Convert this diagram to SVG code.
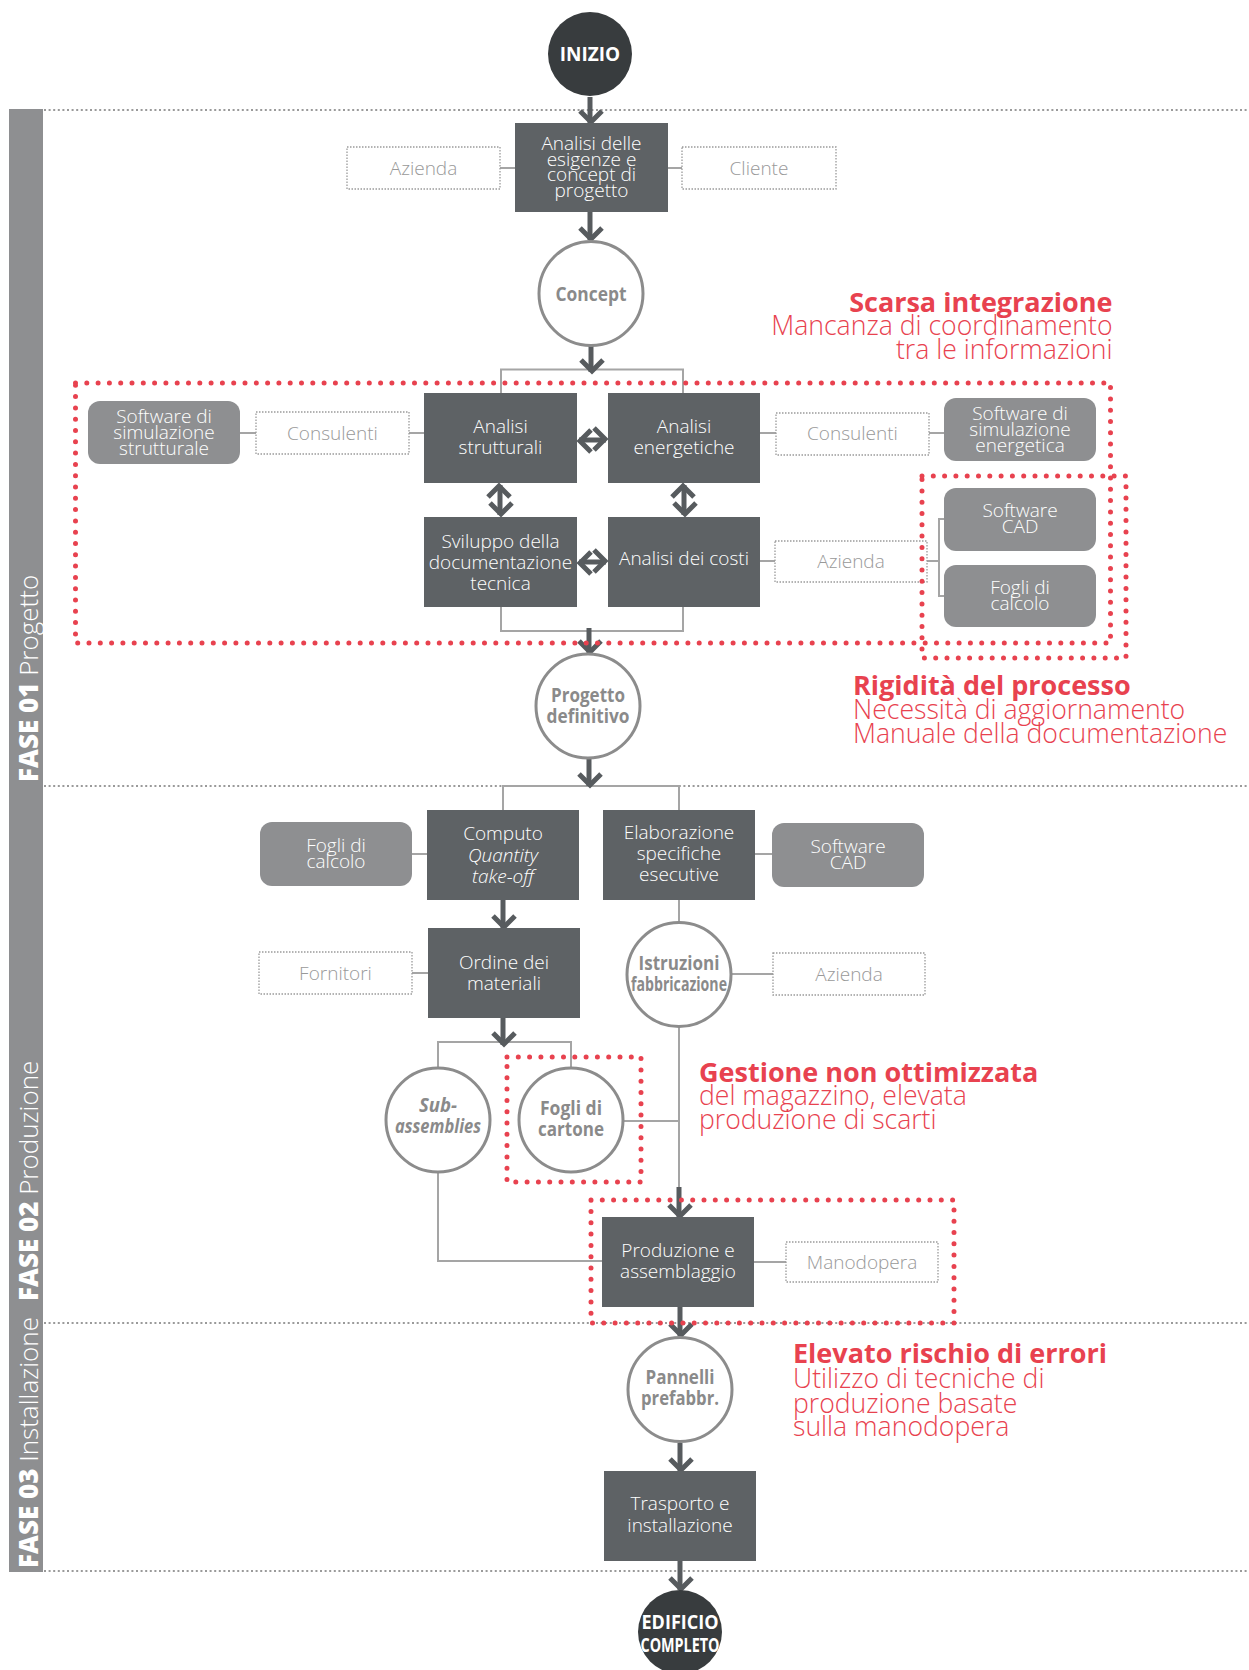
<svg xmlns="http://www.w3.org/2000/svg" width="1249" height="1670" viewBox="0 0 1249 1670">
<style>
  text { font-family: "Open Sans", "Noto Sans", "Liberation Sans", sans-serif; }
  .box { fill: #5e6265; }
  .btxt { fill: #ffffff; font-size: 19px; font-weight: 300; text-anchor: middle; }
  .tool { fill: #8e8f91; }
  .ttxt { fill: #ffffff; font-size: 19px; font-weight: 300; text-anchor: middle; }
  .actor { fill: #ffffff; stroke: #9a9a9a; stroke-width: 1.3; stroke-dasharray: 1.5 1.5; }
  .atxt { fill: #999999; font-size: 19px; font-weight: 300; text-anchor: middle; }
  .state { fill: #ffffff; stroke: #8c8c8c; stroke-width: 3; }
  .stxt { fill: #8a8a8a; font-size: 20px; font-weight: 700; text-anchor: middle; }
  .term { fill: #383c3e; }
  .termtxt { fill: #ffffff; font-size: 19px; font-weight: 700; text-anchor: middle; }
  .link { fill: none; stroke: #a5a5a5; stroke-width: 2; }
  .flow { fill: none; stroke: #575b5e; stroke-width: 5; marker-end: url(#chev); }
  .both { fill: none; stroke: #575b5e; stroke-width: 5; marker-end: url(#chev); marker-start: url(#chev); }
  .phase { fill: none; stroke: #9a9a9a; stroke-width: 2; stroke-dasharray: 2 2.6; }
  .issue { fill: none; stroke: #e8424f; stroke-width: 5; stroke-linecap: round; stroke-dasharray: 0 11.3; }
  .hd { fill: #e8424f; font-size: 27px; font-weight: 700; }
  .sub { fill: #e8424f; font-size: 26.6px; font-weight: 300; }
  .side { fill: #ffffff; font-size: 26px; }
</style>
<defs>
  <marker id="chev" markerUnits="userSpaceOnUse" viewBox="-20 -20 40 40" markerWidth="40" markerHeight="40" refX="0" refY="0" orient="auto-start-reverse" overflow="visible">
    <path d="M-12,-12 L-1,-1 L-12,10" fill="none" stroke="#575b5e" stroke-width="5"/>
  </marker>
</defs>

<!-- phase sidebar -->
<rect x="9" y="109" width="34" height="1463" fill="#8e8f91"/>
<text class="side" transform="translate(38,782) rotate(-90)"><tspan font-weight="800">FASE 01</tspan><tspan font-weight="300"> Progetto</tspan></text>
<text class="side" transform="translate(38,1301) rotate(-90)"><tspan font-weight="800">FASE 02</tspan><tspan font-weight="300"> Produzione</tspan></text>
<text class="side" transform="translate(38,1568) rotate(-90)"><tspan font-weight="800">FASE 03</tspan><tspan font-weight="300"> Installazione</tspan></text>

<!-- phase separators -->
<g id="phase-lines">
  <line class="phase" x1="44" y1="110" x2="1249" y2="110"/>
  <line class="phase" x1="44" y1="786" x2="1249" y2="786"/>
  <line class="phase" x1="44" y1="1323" x2="1249" y2="1323"/>
  <line class="phase" x1="44" y1="1571" x2="1249" y2="1571"/>
</g>

<!-- connectors -->
<g id="connectors">
  <line class="link" x1="500" y1="168" x2="515" y2="168"/>
  <line class="link" x1="668" y1="168" x2="682" y2="168"/>
  <path class="link" d="M501,393 V369.5 H683 V393"/>
  <line class="link" x1="240" y1="433" x2="256" y2="433"/>
  <line class="link" x1="409" y1="433" x2="424" y2="433"/>
  <line class="link" x1="760" y1="433" x2="776" y2="433"/>
  <line class="link" x1="929" y1="433" x2="944" y2="433"/>
  <line class="link" x1="760" y1="561" x2="775" y2="561"/>
  <line class="link" x1="927" y1="561" x2="939" y2="561"/>
  <path class="link" d="M944,519 H939 V596 H944"/>
  <path class="link" d="M501,607 V631 H683 V607"/>
  <path class="link" d="M503,810 V786 H679 V810"/>
  <line class="link" x1="412" y1="854" x2="427" y2="854"/>
  <line class="link" x1="755" y1="854" x2="772" y2="854"/>
  <line class="link" x1="412" y1="973" x2="428" y2="973"/>
  <line class="link" x1="679" y1="900" x2="679" y2="922"/>
  <line class="link" x1="731" y1="974" x2="773" y2="974"/>
  <path class="link" d="M438,1068 V1042 H571 V1068"/>
  <line class="link" x1="623" y1="1121" x2="679" y2="1121"/>
  <line class="link" x1="679" y1="1027" x2="679" y2="1190"/>
  <path class="link" d="M438,1172 V1261 H602"/>
  <line class="link" x1="754" y1="1262" x2="786" y2="1262"/>

  <line class="flow" x1="590" y1="97" x2="590" y2="123"/>
  <line class="flow" x1="590" y1="212" x2="590" y2="240"/>
  <line class="flow" x1="591" y1="346" x2="591" y2="372"/>
  <line class="both" x1="579" y1="440" x2="606" y2="440"/>
  <line class="both" x1="579" y1="562" x2="606" y2="562"/>
  <line class="both" x1="500" y1="485" x2="500" y2="515"/>
  <line class="both" x1="684" y1="485" x2="684" y2="515"/>
  <line class="flow" x1="589" y1="628" x2="589" y2="653"/>
  <line class="flow" x1="589" y1="759" x2="589" y2="786"/>
  <line class="flow" x1="503" y1="900" x2="503" y2="928"/>
  <line class="flow" x1="503" y1="1018" x2="503" y2="1045"/>
  <line class="flow" x1="679" y1="1187" x2="679" y2="1217"/>
  <line class="flow" x1="680" y1="1307" x2="680" y2="1336"/>
  <line class="flow" x1="680" y1="1443" x2="680" y2="1471"/>
  <line class="flow" x1="680" y1="1561" x2="680" y2="1590"/>
</g>

<!-- start / end -->
<g id="inizio">
  <circle class="term" cx="590" cy="54" r="42"/>
  <text class="termtxt" x="590" y="61">INIZIO</text>
</g>
<g id="edificio-completo">
  <circle class="term" cx="680" cy="1632" r="42"/>
  <text class="termtxt" x="680" y="1629" textLength="77" lengthAdjust="spacingAndGlyphs">EDIFICIO</text>
  <text class="termtxt" x="680" y="1651.5" textLength="79" lengthAdjust="spacingAndGlyphs">COMPLETO</text>
</g>

<!-- process boxes -->
<g id="analisi-esigenze">
  <rect class="box" x="515" y="123" width="153" height="89"/>
  <text class="btxt" x="591.5" y="150" font-size="18">Analisi delle</text>
  <text class="btxt" x="591.5" y="165.5" font-size="18">esigenze e</text>
  <text class="btxt" x="591.5" y="181" font-size="18">concept di</text>
  <text class="btxt" x="591.5" y="196.5" font-size="18">progetto</text>
</g>
<g id="analisi-strutturali">
  <rect class="box" x="424" y="393" width="153" height="90"/>
  <text class="btxt" x="500.5" y="433">Analisi</text>
  <text class="btxt" x="500.5" y="454">strutturali</text>
</g>
<g id="analisi-energetiche">
  <rect class="box" x="608" y="393" width="152" height="90"/>
  <text class="btxt" x="684" y="433">Analisi</text>
  <text class="btxt" x="684" y="454">energetiche</text>
</g>
<g id="sviluppo-documentazione">
  <rect class="box" x="424" y="517" width="153" height="90"/>
  <text class="btxt" x="500.5" y="548">Sviluppo della</text>
  <text class="btxt" x="500.5" y="569">documentazione</text>
  <text class="btxt" x="500.5" y="590">tecnica</text>
</g>
<g id="analisi-costi">
  <rect class="box" x="608" y="517" width="152" height="90"/>
  <text class="btxt" x="684" y="565">Analisi dei costi</text>
</g>
<g id="computo">
  <rect class="box" x="427" y="810" width="152" height="90"/>
  <text class="btxt" x="503" y="840">Computo</text>
  <text class="btxt" x="503" y="861.5" font-style="italic">Quantity</text>
  <text class="btxt" x="503" y="883" font-style="italic">take-off</text>
</g>
<g id="elaborazione-specifiche">
  <rect class="box" x="603" y="810" width="152" height="90"/>
  <text class="btxt" x="679" y="838.5">Elaborazione</text>
  <text class="btxt" x="679" y="859.5">specifiche</text>
  <text class="btxt" x="679" y="880.5">esecutive</text>
</g>
<g id="ordine-materiali">
  <rect class="box" x="428" y="928" width="152" height="90"/>
  <text class="btxt" x="504" y="968.5">Ordine dei</text>
  <text class="btxt" x="504" y="989.5">materiali</text>
</g>
<g id="produzione-assemblaggio">
  <rect class="box" x="602" y="1217" width="152" height="90"/>
  <text class="btxt" x="678" y="1256.5">Produzione e</text>
  <text class="btxt" x="678" y="1277.5">assemblaggio</text>
</g>
<g id="trasporto-installazione">
  <rect class="box" x="604" y="1471" width="152" height="90"/>
  <text class="btxt" x="680" y="1510">Trasporto e</text>
  <text class="btxt" x="680" y="1531.5">installazione</text>
</g>

<!-- intermediate outputs -->
<g id="concept">
  <circle class="state" cx="591" cy="293.5" r="52"/>
  <text class="stxt" x="591" y="301" textLength="71" lengthAdjust="spacingAndGlyphs">Concept</text>
</g>
<g id="progetto-definitivo">
  <circle class="state" cx="588" cy="706" r="52"/>
  <text class="stxt" x="588" y="701.5" textLength="74" lengthAdjust="spacingAndGlyphs">Progetto</text>
  <text class="stxt" x="588" y="722.5" textLength="83" lengthAdjust="spacingAndGlyphs">definitivo</text>
</g>
<g id="istruzioni-fabbricazione">
  <circle class="state" cx="679" cy="974.5" r="52"/>
  <text class="stxt" x="679" y="970" textLength="81" lengthAdjust="spacingAndGlyphs">Istruzioni</text>
  <text class="stxt" x="679" y="991" textLength="96" lengthAdjust="spacingAndGlyphs">fabbricazione</text>
</g>
<g id="sub-assemblies">
  <circle class="state" cx="438" cy="1120" r="52"/>
  <text class="stxt" x="438" y="1111.5" font-style="italic" textLength="38" lengthAdjust="spacingAndGlyphs">Sub-</text>
  <text class="stxt" x="438" y="1132.5" font-style="italic" textLength="86" lengthAdjust="spacingAndGlyphs">assemblies</text>
</g>
<g id="fogli-cartone">
  <circle class="state" cx="571" cy="1120" r="52"/>
  <text class="stxt" x="571" y="1115" textLength="62" lengthAdjust="spacingAndGlyphs">Fogli di</text>
  <text class="stxt" x="571" y="1136" textLength="66" lengthAdjust="spacingAndGlyphs">cartone</text>
</g>
<g id="pannelli-prefabbr">
  <circle class="state" cx="680" cy="1389.5" r="52"/>
  <text class="stxt" x="680" y="1383.5" textLength="69" lengthAdjust="spacingAndGlyphs">Pannelli</text>
  <text class="stxt" x="680" y="1405" textLength="78" lengthAdjust="spacingAndGlyphs">prefabbr.</text>
</g>

<!-- actors -->
<g id="azienda-1"><rect class="actor" x="347" y="147" width="153" height="42"/><text class="atxt" x="423.5" y="174.5">Azienda</text></g>
<g id="cliente"><rect class="actor" x="682" y="147" width="154" height="42"/><text class="atxt" x="759" y="174.5">Cliente</text></g>
<g id="consulenti-1"><rect class="actor" x="256" y="412" width="153" height="42"/><text class="atxt" x="332.5" y="439.5">Consulenti</text></g>
<g id="consulenti-2"><rect class="actor" x="776" y="413" width="153" height="42"/><text class="atxt" x="852.5" y="440">Consulenti</text></g>
<g id="azienda-2"><rect class="actor" x="775" y="541" width="152" height="41"/><text class="atxt" x="851" y="567.5">Azienda</text></g>
<g id="fornitori"><rect class="actor" x="259" y="952" width="153" height="42"/><text class="atxt" x="335.5" y="979.5">Fornitori</text></g>
<g id="azienda-3"><rect class="actor" x="773" y="953" width="152" height="42"/><text class="atxt" x="849" y="980.5">Azienda</text></g>
<g id="manodopera"><rect class="actor" x="786" y="1242" width="152" height="40"/><text class="atxt" x="862" y="1268.5">Manodopera</text></g>

<!-- tools -->
<g id="sw-sim-strutturale">
  <rect class="tool" x="88" y="401" width="152" height="63" rx="12"/>
  <text class="ttxt" x="164" y="423">Software di</text>
  <text class="ttxt" x="164" y="439">simulazione</text>
  <text class="ttxt" x="164" y="455">strutturale</text>
</g>
<g id="sw-sim-energetica">
  <rect class="tool" x="944" y="398" width="152" height="63" rx="12"/>
  <text class="ttxt" x="1020" y="420">Software di</text>
  <text class="ttxt" x="1020" y="436">simulazione</text>
  <text class="ttxt" x="1020" y="452">energetica</text>
</g>
<g id="sw-cad-1">
  <rect class="tool" x="944" y="488" width="152" height="63" rx="12"/>
  <text class="ttxt" x="1020" y="517">Software</text>
  <text class="ttxt" x="1020" y="533">CAD</text>
</g>
<g id="fogli-calcolo-1">
  <rect class="tool" x="944" y="565" width="152" height="62" rx="12"/>
  <text class="ttxt" x="1020" y="593.5">Fogli di</text>
  <text class="ttxt" x="1020" y="609.5">calcolo</text>
</g>
<g id="fogli-calcolo-2">
  <rect class="tool" x="260" y="822" width="152" height="64" rx="12"/>
  <text class="ttxt" x="336" y="851.5">Fogli di</text>
  <text class="ttxt" x="336" y="867.5">calcolo</text>
</g>
<g id="sw-cad-2">
  <rect class="tool" x="772" y="823" width="152" height="64" rx="12"/>
  <text class="ttxt" x="848" y="852.5">Software</text>
  <text class="ttxt" x="848" y="868.5">CAD</text>
</g>

<!-- critical areas -->
<g id="critical-areas">
  <rect class="issue" x="75.5" y="383" width="1035" height="260"/>
  <rect class="issue" x="922" y="476" width="204" height="182"/>
  <rect class="issue" x="507" y="1057" width="134" height="125"/>
  <rect class="issue" x="591" y="1200" width="363" height="123"/>
</g>

<!-- issue notes -->
<g id="note-integrazione" text-anchor="end">
  <text class="hd" x="1112.5" y="311.5">Scarsa integrazione</text>
  <text class="sub" x="1112.5" y="335">Mancanza di coordinamento</text>
  <text class="sub" x="1112.5" y="359">tra le informazioni</text>
</g>
<g id="note-rigidita">
  <text class="hd" x="853" y="695">Rigidità del processo</text>
  <text class="sub" x="853" y="719">Necessità di aggiornamento</text>
  <text class="sub" x="853" y="743">Manuale della documentazione</text>
</g>
<g id="note-gestione">
  <text class="hd" x="699" y="1081.5">Gestione non ottimizzata</text>
  <text class="sub" x="699" y="1105">del magazzino, elevata</text>
  <text class="sub" x="699" y="1129">produzione di scarti</text>
</g>
<g id="note-errori">
  <text class="hd" x="793" y="1363">Elevato rischio di errori</text>
  <text class="sub" x="793" y="1388">Utilizzo di tecniche di</text>
  <text class="sub" x="793" y="1412.5">produzione basate</text>
  <text class="sub" x="793" y="1436">sulla manodopera</text>
</g>
</svg>
